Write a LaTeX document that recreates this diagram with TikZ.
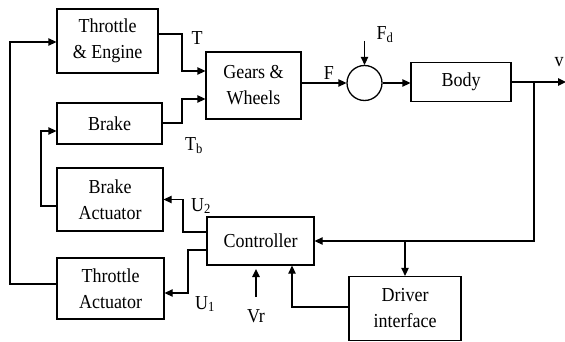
\documentclass[tikz,border=0pt]{standalone}
\usepackage{fontspec}
\usepackage{graphicx}
\setmainfont{Liberation Serif}
\usetikzlibrary{arrows.meta}
\newcommand{\tallt}[1]{\scalebox{1}[1.1]{#1}}
\begin{document}
\begin{tikzpicture}[x=1pt,y=-1pt,
  blk/.style={draw, line width=1.3pt, inner sep=0pt, align=center, font=\fontsize{18}{26}\selectfont},
  lbl/.style={inner sep=0pt, font=\fontsize{18}{22}\selectfont},
  arr/.style={line width=1.3pt, -{Triangle[length=8pt,width=7.5pt]}},
  ln/.style={line width=1.3pt}]
\useasboundingbox (0,0) rectangle (565,342);
\node[blk, minimum width=101pt, minimum height=64pt] (TE) at (107.5,41) {\tallt{Throttle}\\\tallt{\& Engine}};
\node[blk, minimum width=95pt, minimum height=67pt] (GW) at (253.5,85.5) {\tallt{Gears \&}\\\tallt{Wheels}};
\node[blk, minimum width=105pt, minimum height=41pt] (BR) at (109.5,123.5) {\tallt{Brake}};
\node[blk, minimum width=106pt, minimum height=63pt] (BA) at (110,199.5) {\tallt{Brake}\\\tallt{Actuator}};
\node[blk, minimum width=107pt, minimum height=61pt] (TA) at (110.5,288.5) {\tallt{Throttle}\\\tallt{Actuator}};
\node[blk, minimum width=107pt, minimum height=48pt] (CT) at (260.5,241) {\tallt{Controller}};
\node[blk, minimum width=112pt, minimum height=64pt] (DI) at (405,308.5) {\tallt{Driver}\\\tallt{interface}};
\node[draw, line width=1.3pt, circle, minimum size=35pt, inner sep=0pt] (SUM) at (364.5,83) {};
\node[blk, minimum width=100pt, minimum height=39pt] (BD) at (461,82) {\tallt{Body}};
\coordinate (FD) at (364.5,41);
\coordinate (V) at (566,82);
\coordinate (B1) at (534,82);
\coordinate (VR) at (256,297);
\coordinate (VRT) at (256,269);
% forward path
\draw[arr] (TE.east |- 0,34) -| (182,71) -- (GW.west |- 0,71);
\draw[arr] (BR.east |- 0,123) -| (182,99) -- (GW.west |- 0,99);
\draw[arr] (GW.east |- SUM) -- (SUM.west);
\draw[arr] (FD) -- (SUM.north);
\draw[arr] (SUM.east) -- (BD.west |- SUM);
\draw[arr] (BD.east) -- (V);
% feedback
\draw[arr] (B1) |- (CT.east);
\draw[arr] (DI.north |- CT.east) -- (DI.north);
\draw[arr] (DI.west |- 0,307) -| (CT.south -| 292,0);
\draw[arr] (VR) -- (VRT);
\draw[arr] (CT.west |- 0,232) -| (183,199.5) -- (BA.east);
\draw[arr] (CT.west |- 0,250) -| (188,293) -- (TA.east |- 0,293);
\draw[arr] (BA.west |- 0,206) -| (41,131) -- (BR.west |- 0,131);
\draw[arr] (TA.west |- 0,284) -| (10,42) -- (TE.west |- 0,42);
% labels
\node[lbl] (lT) at (197,38) {\tallt{T}};
\node[lbl] (lTb) at (194,146) {\tallt{T\textsubscript{b}}};
\node[lbl] (lF) at (329,73) {\tallt{F}};
\node[lbl] (lFd) at (385,35) {\tallt{F\textsubscript{d}}};
\node[lbl] (lU2) at (201,206) {\tallt{U\textsubscript{2}}};
\node[lbl] (lU1) at (205,304) {\tallt{U\textsubscript{1}}};
\node[lbl] (lVr) at (256,316) {\tallt{Vr}};
\node[lbl] (lv) at (559,62) {\tallt{v}};
\end{tikzpicture}
\end{document}
